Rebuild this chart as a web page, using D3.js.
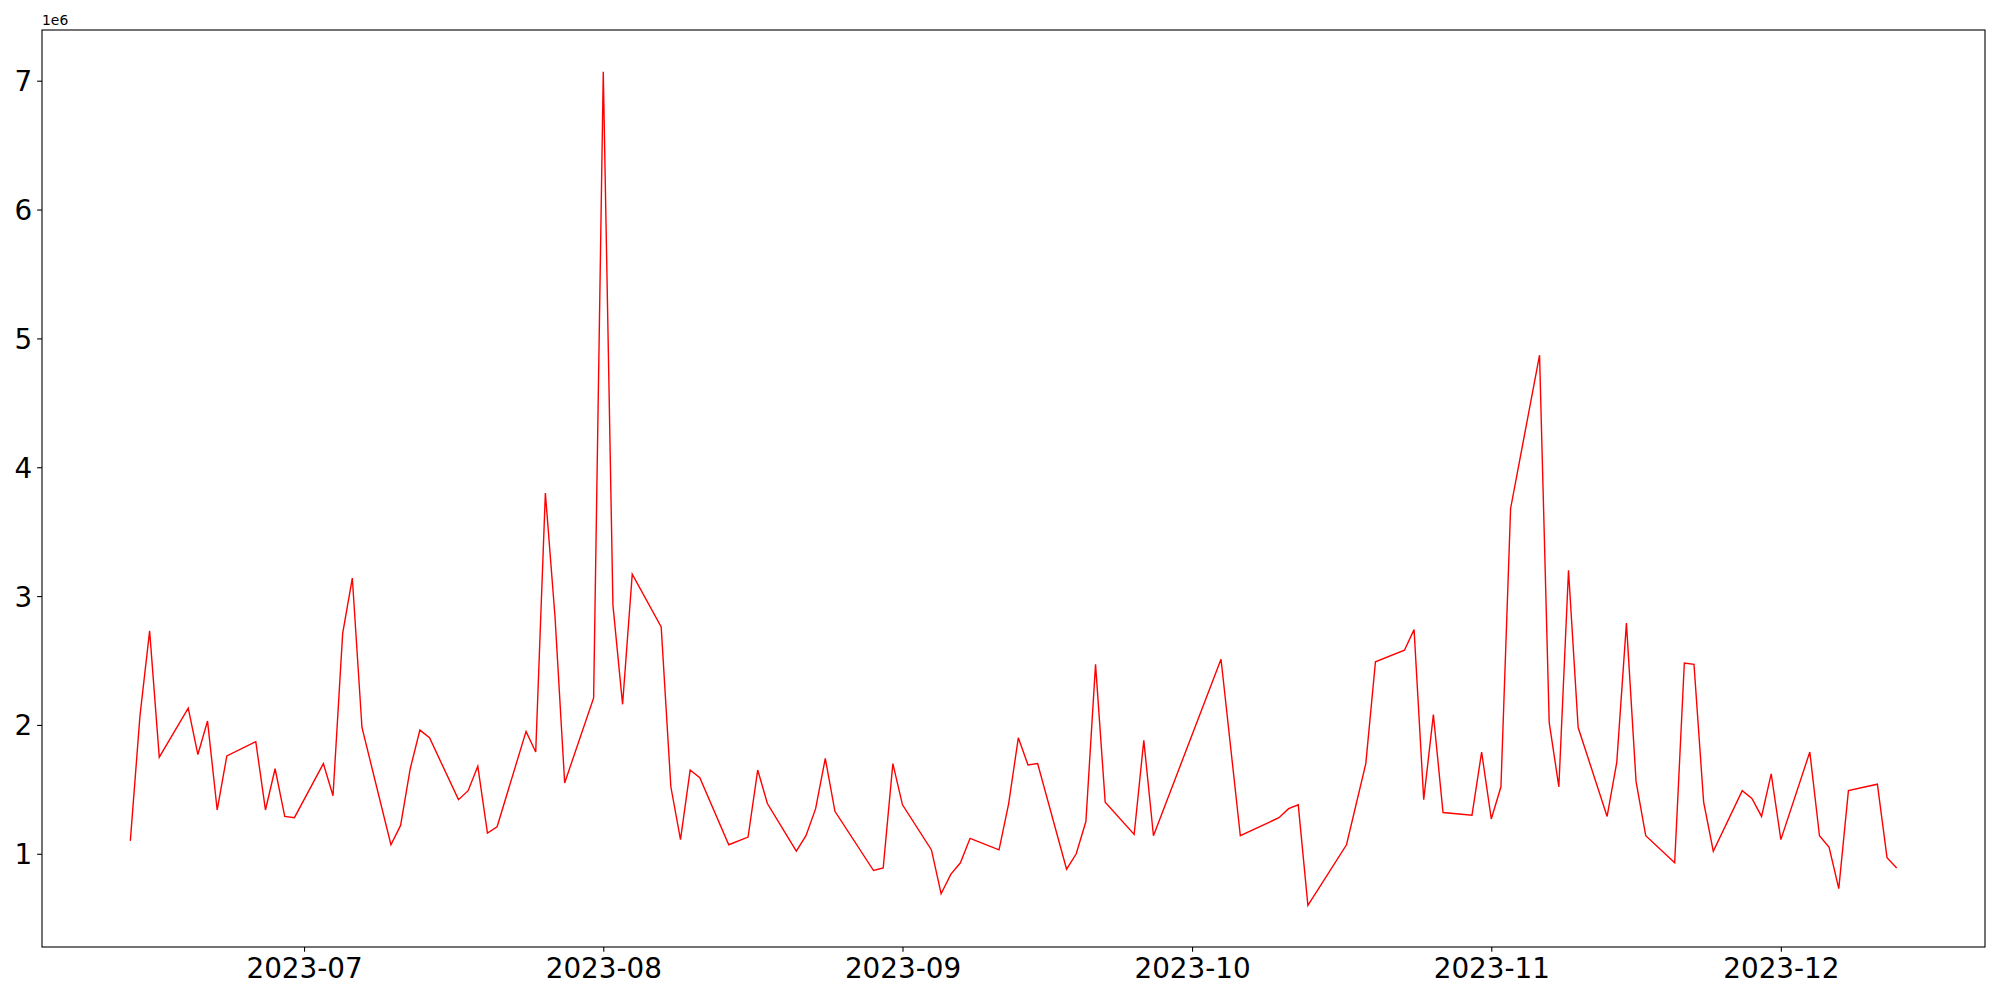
<!DOCTYPE html>
<html>
<head>
<meta charset="utf-8">
<script src="https://cdn.jsdelivr.net/npm/d3@7"></script>
<style>
  html, body { margin: 0; padding: 0; background: #fff; }
  svg { display: block; }
  text { font-family: "DejaVu Sans", sans-serif; fill: #000; }
</style>
</head>
<body>
<script>
const dates = [
  "2023-06-13","2023-06-14","2023-06-15","2023-06-16","2023-06-19","2023-06-20","2023-06-21","2023-06-22","2023-06-23",
  "2023-06-26","2023-06-27","2023-06-28","2023-06-29","2023-06-30",
  "2023-07-03","2023-07-04","2023-07-05","2023-07-06","2023-07-07",
  "2023-07-10","2023-07-11","2023-07-12","2023-07-13","2023-07-14",
  "2023-07-17","2023-07-18","2023-07-19","2023-07-20","2023-07-21",
  "2023-07-24","2023-07-25","2023-07-26","2023-07-27","2023-07-28",
  "2023-07-31","2023-08-01","2023-08-02","2023-08-03","2023-08-04",
  "2023-08-07","2023-08-08","2023-08-09","2023-08-10","2023-08-11",
  "2023-08-14","2023-08-16","2023-08-17","2023-08-18",
  "2023-08-21","2023-08-22","2023-08-23","2023-08-24","2023-08-25",
  "2023-08-29","2023-08-30","2023-08-31","2023-09-01",
  "2023-09-04","2023-09-05","2023-09-06","2023-09-07","2023-09-08",
  "2023-09-11","2023-09-12","2023-09-13","2023-09-14","2023-09-15",
  "2023-09-18","2023-09-19","2023-09-20","2023-09-21","2023-09-22",
  "2023-09-25","2023-09-26","2023-09-27",
  "2023-10-04","2023-10-06",
  "2023-10-10","2023-10-11","2023-10-12","2023-10-13",
  "2023-10-17","2023-10-19","2023-10-20",
  "2023-10-23","2023-10-24","2023-10-25","2023-10-26","2023-10-27",
  "2023-10-30","2023-10-31","2023-11-01","2023-11-02","2023-11-03",
  "2023-11-06","2023-11-07","2023-11-08","2023-11-09","2023-11-10",
  "2023-11-13","2023-11-14","2023-11-15","2023-11-16","2023-11-17",
  "2023-11-20","2023-11-21","2023-11-22","2023-11-23","2023-11-24",
  "2023-11-27","2023-11-28","2023-11-29","2023-11-30","2023-12-01",
  "2023-12-04","2023-12-05","2023-12-06","2023-12-07","2023-12-08",
  "2023-12-11","2023-12-12","2023-12-13"
];

const values = [
  1100000,2070000,2730000,1750000,2130000,1770000,2030000,1340000,1760000,
  1870000,1340000,1660000,1290000,1280000,
  1700000,1450000,2710000,3140000,1980000,
  1070000,1220000,1660000,1960000,1900000,
  1420000,1490000,1680000,1160000,1210000,
  1950000,1790000,3800000,2840000,1550000,
  2210000,7070000,2930000,2160000,3170000,
  2760000,1520000,1110000,1650000,1590000,
  1070000,1130000,1650000,1390000,
  1020000,1140000,1350000,1740000,1330000,
  870000,890000,1700000,1380000,
  1030000,690000,840000,930000,1120000,
  1030000,1390000,1900000,1690000,1700000,
  880000,1000000,1250000,2470000,1400000,
  1150000,1880000,1140000,
  2510000,1140000,
  1280000,1350000,1380000,600000,
  1070000,1700000,2490000,
  2580000,2740000,1420000,2080000,1320000,
  1300000,1790000,1270000,1520000,3680000,
  4870000,2020000,1520000,3200000,1980000,
  1290000,1710000,2790000,1560000,1140000,
  930000,2480000,2470000,1400000,1020000,
  1490000,1430000,1290000,1620000,1110000,
  1790000,1140000,1050000,730000,1490000,
  1540000,970000,890000
];

const yTickValues = [1000000,2000000,3000000,4000000,5000000,6000000,7000000];
const xTickDates = ["2023-07-01","2023-08-01","2023-09-01","2023-10-01","2023-11-01","2023-12-01"];
const offsetLabel = "1e6";

const W = 2000, H = 1000;
const margin = {left: 42, right: 15, top: 30, bottom: 53};
const parse = d3.timeParse("%Y-%m-%d");
const data = dates.map((d, i) => ({date: parse(d), value: values[i]}));

const svg = d3.select("body").append("svg").attr("width", W).attr("height", H);

const xExt = d3.extent(data, d => d.date);
const xPad = (xExt[1] - xExt[0]) * 0.05;
const x = d3.scaleTime()
  .domain([new Date(+xExt[0] - xPad), new Date(+xExt[1] + xPad)])
  .range([margin.left, W - margin.right]);

const yExt = d3.extent(data, d => d.value);
const yPad = (yExt[1] - yExt[0]) * 0.05;
const y = d3.scaleLinear()
  .domain([yExt[0] - yPad, yExt[1] + yPad])
  .range([H - margin.bottom, margin.top]);

const fontSize = 27.8;
const tickLen = 4.86;

const xAxis = d3.axisBottom(x)
  .tickValues(xTickDates.map(parse))
  .tickFormat(d3.timeFormat("%Y-%m"))
  .tickSizeInner(tickLen).tickSizeOuter(0).tickPadding(4.86);
const yAxis = d3.axisLeft(y)
  .tickValues(yTickValues)
  .tickFormat(d => d3.format("d")(d / 1e6))
  .tickSizeInner(tickLen).tickSizeOuter(0).tickPadding(4.86);

// line
const line = d3.line().x(d => x(d.date)).y(d => y(d.value));
svg.append("path").datum(data)
  .attr("d", line)
  .attr("fill", "none")
  .attr("stroke", "#ff0000")
  .attr("stroke-width", 1.4)
  .attr("stroke-linejoin", "miter");

const gx = svg.append("g").attr("transform", `translate(0,${H - margin.bottom})`).call(xAxis);
gx.select(".domain").remove();
gx.selectAll("line").attr("stroke", "#000").attr("stroke-width", 1.1);
gx.selectAll("text").attr("font-size", fontSize).attr("font-family", "DejaVu Sans").attr("dy", "0.78em");

const gy = svg.append("g").attr("transform", `translate(${margin.left},0)`).call(yAxis);
gy.select(".domain").remove();
gy.selectAll("line").attr("stroke", "#000").attr("stroke-width", 1.1);
gy.selectAll("text").attr("font-size", fontSize).attr("font-family", "DejaVu Sans").attr("dy", "0.36em");

// frame
svg.append("rect")
  .attr("x", margin.left).attr("y", margin.top)
  .attr("width", W - margin.left - margin.right)
  .attr("height", H - margin.top - margin.bottom)
  .attr("fill", "none").attr("stroke", "#000").attr("stroke-width", 1.1);

svg.append("text")
  .attr("x", margin.left).attr("y", margin.top - 5)
  .attr("font-size", 13.9)
  .text(offsetLabel);
</script>
</body>
</html>
